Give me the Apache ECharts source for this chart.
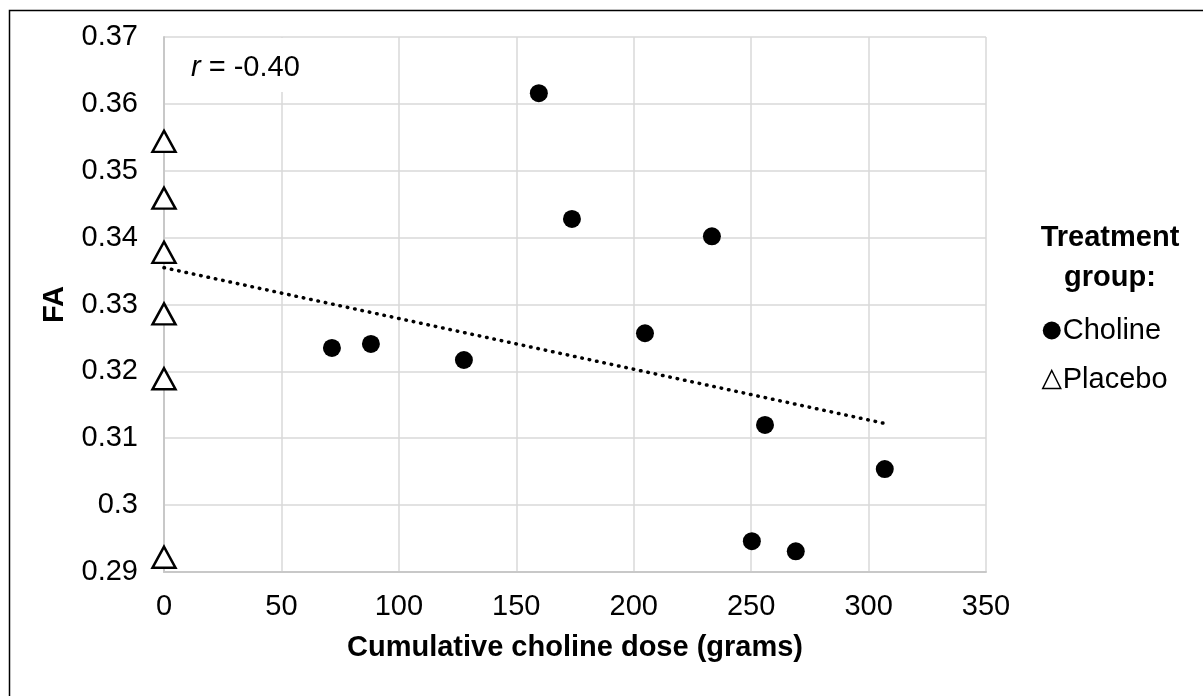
<!DOCTYPE html>
<html>
<head>
<meta charset="utf-8">
<script src="https://cdn.jsdelivr.net/npm/echarts@6/dist/echarts.min.js"></script>
<style>
  html, body { margin: 0; padding: 0; background: #fff; }
  #chart { width: 1203px; height: 696px; }
</style>
</head>
<body>
<div id="chart"></div>
<script>
// data
const cholineDose = [71.5, 88.1, 127.7, 159.6, 173.7, 204.8, 233.3, 250.3, 255.9, 269.0, 306.9]
const cholineFA = [0.3235, 0.3241, 0.3217, 0.3616, 0.3428, 0.3257, 0.3402, 0.2946, 0.3120, 0.2931, 0.3054]
const placeboDose = [0, 0, 0, 0, 0, 0]
const placeboFA = [0.3544, 0.3459, 0.3378, 0.3286, 0.3189, 0.2922]
// trend line end points
const trendDose = [0, 307]
const trendFA = [0.3355, 0.3122]

const font = 'Liberation Sans, Arial, sans-serif'
const fs = 29
const zip = (xs, ys) => xs.map((x, i) => [x, ys[i]])

const myChart = echarts.init(document.getElementById('chart'))
const option = {
  backgroundColor: '#fff',
  animation: false,
  textStyle: { fontFamily: font },
  grid: { left: 164, right: 217, top: 37, bottom: 124 },
  xAxis: {
    type: 'value',
    min: 0,
    max: 350,
    interval: 50,
    name: 'Cumulative choline dose (grams)',
    nameLocation: 'middle',
    nameGap: 61,
    nameTextStyle: { fontSize: fs, fontWeight: 'bold', color: '#000', fontFamily: font },
    axisLine: { lineStyle: { color: '#c8c8c8', width: 2 } },
    axisTick: { show: false },
    axisLabel: { fontSize: fs, color: '#000', margin: 20, fontFamily: font },
    splitLine: { lineStyle: { color: '#d9d9d9', width: 1.5 } }
  },
  yAxis: {
    type: 'value',
    min: 0.29,
    max: 0.37,
    interval: 0.01,
    name: 'FA',
    nameLocation: 'middle',
    nameGap: 95,
    nameTextStyle: { fontSize: fs, fontWeight: 'bold', color: '#000', fontFamily: font },
    axisLine: { show: true, lineStyle: { color: '#c8c8c8', width: 2 } },
    axisTick: { show: false },
    axisLabel: { fontSize: fs, color: '#000', margin: 26, fontFamily: font },
    splitLine: { lineStyle: { color: '#d9d9d9', width: 1.5 } }
  },
  legend: {
    orient: 'vertical',
    left: 1037,
    top: 311,
    itemGap: 20,
    itemWidth: 18,
    itemHeight: 18,
    textStyle: { fontSize: fs, color: '#000', fontFamily: font, padding: [0, 0, 0, -3] },
    data: [
      { name: 'Choline', icon: 'circle', itemStyle: { color: '#000', opacity: 1 } },
      { name: 'Placebo', icon: 'triangle', itemStyle: { color: '#fff', borderColor: '#000', borderWidth: 1.5, opacity: 1 } }
    ]
  },
  graphic: [
    // outer frame
    { type: 'rect', left: 7, top: 8, shape: { width: 1210, height: 710 }, style: { fill: 'none', stroke: '#000', lineWidth: 1.5 }, silent: true },
    // text box with correlation
    { type: 'rect', left: 168, top: 38, z: 10, shape: { width: 160, height: 54 }, style: { fill: '#fff' } },
    {
      type: 'text', x: 191, y: 68, z: 11,
      style: {
        text: '{i|r} = -0.40',
        fontSize: fs, fill: '#000', fontFamily: font, verticalAlign: 'middle',
        rich: { i: { fontStyle: 'italic', fontSize: fs, fontFamily: font } }
      }
    },
    // legend title
    { type: 'text', x: 1110, y: 238, style: { text: 'Treatment', fontSize: fs, fontWeight: 'bold', fill: '#000', fontFamily: font, align: 'center', verticalAlign: 'middle' } },
    { type: 'text', x: 1110, y: 278, style: { text: 'group:', fontSize: fs, fontWeight: 'bold', fill: '#000', fontFamily: font, align: 'center', verticalAlign: 'middle' } }
  ],
  series: [
    {
      name: 'Trend',
      type: 'line',
      data: zip(trendDose, trendFA),
      symbol: 'none',
      z: 3,
      lineStyle: { color: '#000', width: 3.5, type: [0.5, 7], cap: 'round' }
    },
    {
      name: 'Choline',
      type: 'scatter',
      data: zip(cholineDose, cholineFA),
      symbol: 'circle',
      symbolSize: 18,
      z: 4,
      itemStyle: { color: '#000', opacity: 1 }
    },
    {
      name: 'Placebo',
      type: 'scatter',
      data: zip(placeboDose, placeboFA),
      symbol: 'triangle',
      symbolSize: [23, 21],
      z: 4,
      itemStyle: { color: '#fff', borderColor: '#000', borderWidth: 2.5, opacity: 1 }
    }
  ]
}
option && myChart.setOption(option)
</script>
</body>
</html>
